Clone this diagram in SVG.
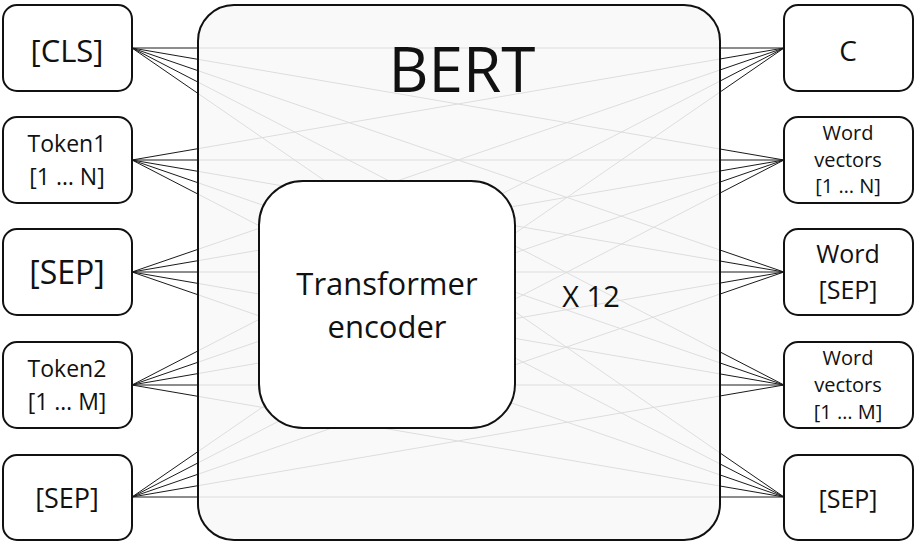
<svg xmlns="http://www.w3.org/2000/svg" width="915" height="543" viewBox="0 0 915 543">
<style>
.box{fill:#fff;stroke:#111;stroke-width:2}
.t{font-family:"Open Sans","Noto Sans",sans-serif;fill:#111;text-anchor:middle}
.c line{stroke:#1a1a1a;stroke-width:1}
</style>
<rect width="915" height="543" fill="#fff"/>
<g id="connectors" class="c">
<line x1="132" y1="48" x2="784" y2="48"/><line x1="132" y1="48" x2="784" y2="160"/><line x1="132" y1="48" x2="784" y2="272"/><line x1="132" y1="48" x2="784" y2="385"/><line x1="132" y1="48" x2="784" y2="497"/>
<line x1="132" y1="160" x2="784" y2="48"/><line x1="132" y1="160" x2="784" y2="160"/><line x1="132" y1="160" x2="784" y2="272"/><line x1="132" y1="160" x2="784" y2="385"/><line x1="132" y1="160" x2="784" y2="497"/>
<line x1="132" y1="272" x2="784" y2="48"/><line x1="132" y1="272" x2="784" y2="160"/><line x1="132" y1="272" x2="784" y2="272"/><line x1="132" y1="272" x2="784" y2="385"/><line x1="132" y1="272" x2="784" y2="497"/>
<line x1="132" y1="385" x2="784" y2="48"/><line x1="132" y1="385" x2="784" y2="160"/><line x1="132" y1="385" x2="784" y2="272"/><line x1="132" y1="385" x2="784" y2="385"/><line x1="132" y1="385" x2="784" y2="497"/>
<line x1="132" y1="497" x2="784" y2="48"/><line x1="132" y1="497" x2="784" y2="160"/><line x1="132" y1="497" x2="784" y2="272"/><line x1="132" y1="497" x2="784" y2="385"/><line x1="132" y1="497" x2="784" y2="497"/>
</g>
<g id="bert">
<rect x="198" y="5" width="522" height="535" rx="36" fill="#f8f8f8" fill-opacity="0.88" stroke="#111" stroke-width="2"/>
<text class="t" x="462" y="92" font-size="62">BERT</text>
<text class="t" x="591" y="307" font-size="29">X 12</text>
</g>
<g id="transformer">
<rect class="box" x="259" y="181" width="256" height="247" rx="44"/>
<text class="t" x="387" y="295" font-size="31">Transformer</text>
<text class="t" x="387" y="338" font-size="31">encoder</text>
</g>
<g id="in-cls"><rect class="box" x="3" y="5" width="129" height="86" rx="14"/><text class="t" x="67" y="62" font-size="31">[CLS]</text></g>
<g id="in-token1"><rect class="box" x="3" y="117" width="129" height="86" rx="14"/><text class="t" x="67" y="152" font-size="23">Token1</text><text class="t" x="67" y="185" font-size="23">[1 … N]</text></g>
<g id="in-sep1"><rect class="box" x="3" y="229" width="129" height="86" rx="14"/><text class="t" x="67" y="284" font-size="32">[SEP]</text></g>
<g id="in-token2"><rect class="box" x="3" y="342" width="129" height="86" rx="14"/><text class="t" x="67" y="377" font-size="23">Token2</text><text class="t" x="67" y="410" font-size="23">[1 … M]</text></g>
<g id="in-sep2"><rect class="box" x="3" y="455" width="129" height="85" rx="14"/><text class="t" x="67" y="508" font-size="27">[SEP]</text></g>
<g id="out-c"><rect class="box" x="784" y="5" width="129" height="86" rx="14"/><text class="t" x="848" y="61" font-size="28">C</text></g>
<g id="out-wv1"><rect class="box" x="784" y="117" width="129" height="86" rx="14"/><text class="t" x="848" y="140" font-size="20">Word</text><text class="t" x="848" y="167" font-size="20">vectors</text><text class="t" x="848" y="193" font-size="20">[1 … N]</text></g>
<g id="out-wsep"><rect class="box" x="784" y="229" width="129" height="86" rx="14"/><text class="t" x="848" y="263" font-size="25">Word</text><text class="t" x="848" y="299" font-size="25">[SEP]</text></g>
<g id="out-wv2"><rect class="box" x="784" y="342" width="129" height="86" rx="14"/><text class="t" x="848" y="365" font-size="20">Word</text><text class="t" x="848" y="392" font-size="20">vectors</text><text class="t" x="848" y="419" font-size="20">[1 … M]</text></g>
<g id="out-sep"><rect class="box" x="784" y="455" width="129" height="85" rx="14"/><text class="t" x="848" y="508" font-size="25">[SEP]</text></g>
</svg>
